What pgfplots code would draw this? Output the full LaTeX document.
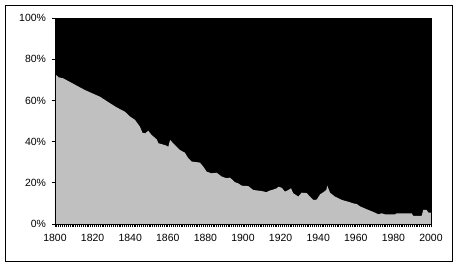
\documentclass[border=0pt]{standalone}
\usepackage{pgfplots}
\pgfplotsset{compat=1.18}
\usepackage{fontspec}
\setmainfont{Liberation Sans}
\definecolor{silvergray}{HTML}{C0C0C0}
\begin{document}
\begin{tikzpicture}
\begin{axis}[
  width=376bp, height=206bp, scale only axis,
  xmin=1800, xmax=2000, ymin=0, ymax=100,
  xtick={1800,1820,...,2000}, minor x tick num=19,
  ytick={0,20,...,100},
  xtick pos=left, ytick pos=left, tick align=outside,
  major tick length=3bp, minor tick length=2.5bp,
  tick style={black, line width=0.8bp},
  axis line style={black, line width=0.8bp},
  yticklabel={\pgfmathprintnumber{\tick}\%},
  /pgf/number format/assume math mode=true,
  /pgf/number format/1000 sep={},
  ticklabel style={font=\fontsize{10.5}{12}\selectfont},
  yticklabel style={xshift=-2.5bp},
  xticklabel style={yshift=-4bp},
  axis on top,
]
\addplot[fill=black, draw=none] coordinates {(1800,100) (2000,100)} \closedcycle;
\addplot[fill=silvergray, draw=none] table {
1800 72.7
1801 72.0
1802 71.2
1804.4 70.7
1813.3 66.3
1816 65.0
1823.9 61.8
1829.3 58.6
1832.8 56.6
1837.2 54.5
1840 52.1
1842.6 50.5
1845.2 47.2
1846.5 44.3
1848 44.0
1849.6 45.3
1851.4 43.2
1854.1 41.1
1855 39.2
1858.5 38.3
1860.3 37.5
1861.2 40.8
1863.8 38.3
1866.5 35.9
1869.1 34.6
1870.9 31.9
1872.7 30.3
1877.1 29.8
1878.9 27.8
1880.7 25.4
1883.3 24.6
1886 24.9
1888.7 23.0
1891.3 22.2
1893.1 22.5
1895.7 20.3
1897.5 19.7
1899.3 18.6
1902.8 18.4
1905.5 16.5
1909.9 16.0
1912.6 15.4
1913.5 16.0
1915.3 16.5
1917.9 17.3
1918.8 18.1
1920.6 17.6
1922.3 15.7
1924.1 16.5
1925.5 17.3
1926.8 14.9
1929.4 13.3
1931.2 15.2
1933.9 15.0
1935.6 13.3
1937.4 11.7
1939.2 11.8
1941 14.4
1942.7 15.4
1944.3 16.5
1944.8 18.6
1946.3 15.2
1948.9 13.3
1952.5 11.7
1956 10.8
1958.7 10.0
1960.5 9.7
1962.2 8.6
1964.9 7.5
1967.6 6.5
1970.2 5.5
1972 4.7
1973.8 5.2
1975.5 4.7
1981 4.7
1981.7 5.2
1989.7 5.2
1990.6 3.9
1995 3.9
1995.9 6.8
1997.7 6.8
1998.6 5.5
2000 5.5
} \closedcycle;
\end{axis}
\draw[line width=0.8bp] ([shift={(-50bp,-37bp)}]current axis.south west) rectangle ([shift={(397bp,219bp)}]current axis.south west);
\pgfresetboundingbox
\path[use as bounding box] ([shift={(-55bp,-44bp)}]current axis.south west) rectangle ([shift={(406bp,224bp)}]current axis.south west);
\end{tikzpicture}
\end{document}
